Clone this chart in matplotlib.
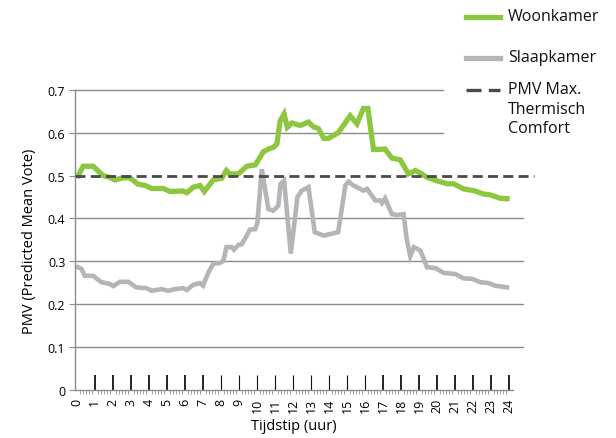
#!/usr/bin/env python3
"""PMV per uur: woonkamer vs slaapkamer, met grens thermisch comfort."""
import matplotlib

matplotlib.use("Agg")
import matplotlib.pyplot as plt
from matplotlib.lines import Line2D

plt.rcParams["font.family"] = ["Open Sans", "DejaVu Sans"]

# ---- data ----
woon_uur = [0.07, 0.35, 0.9, 1.46, 1.83, 2.1, 2.6, 2.94, 3.4, 3.8, 4.15, 4.8, 5.17, 5.9,
            6.1, 6.46, 6.83, 7.07, 7.57, 8.04, 8.3, 8.5, 8.96, 9.43, 9.9, 10.17, 10.35,
            10.63, 10.9, 11.1, 11.28, 11.5, 11.68, 11.93, 12.4, 12.85, 13.13, 13.4, 13.7,
            13.96, 14.5, 15.17, 15.54, 15.9, 16.15, 16.46, 17.1, 17.48, 17.94, 18.4,
            18.78, 19.06, 19.43, 19.98, 20.54, 20.9, 21.46, 22.02, 22.57, 22.94, 23.5, 23.87]
woon_pmv = [0.50, 0.522, 0.522, 0.50, 0.496, 0.49, 0.495, 0.495, 0.48, 0.477, 0.47, 0.47,
            0.463, 0.464, 0.46, 0.473, 0.477, 0.463, 0.49, 0.494, 0.512, 0.504, 0.504,
            0.522, 0.525, 0.543, 0.556, 0.562, 0.566, 0.574, 0.628, 0.644, 0.613, 0.623,
            0.617, 0.625, 0.614, 0.61, 0.587, 0.587, 0.60, 0.64, 0.621, 0.657, 0.657,
            0.561, 0.562, 0.541, 0.537, 0.504, 0.512, 0.506, 0.496, 0.488, 0.481, 0.481,
            0.469, 0.465, 0.457, 0.455, 0.447, 0.446]

slaap_uur = [0.07, 0.26, 0.44, 0.9, 1.37, 1.83, 2.02, 2.39, 2.85, 3.3, 3.87, 4.15, 4.7,
             5.07, 5.44, 5.9, 6.1, 6.46, 6.83, 7.0, 7.3, 7.57, 7.94, 8.13, 8.3, 8.6, 8.72,
             8.96, 9.15, 9.43, 9.6, 9.9, 10.02, 10.26, 10.63, 10.9, 11.18, 11.3, 11.5,
             11.87, 12.24, 12.48, 12.85, 13.2, 13.7, 14.5, 14.9, 15.07, 15.35, 15.9, 16.1,
             16.56, 16.83, 16.93, 17.1, 17.48, 17.76, 18.13, 18.3, 18.5, 18.7, 19.06,
             19.43, 19.9, 20.35, 21.0, 21.46, 21.93, 22.4, 22.85, 23.2, 23.87]
slaap_pmv = [0.286, 0.282, 0.266, 0.266, 0.251, 0.247, 0.242, 0.252, 0.252, 0.239, 0.237,
             0.231, 0.235, 0.231, 0.235, 0.237, 0.233, 0.245, 0.249, 0.243, 0.274, 0.294,
             0.296, 0.301, 0.333, 0.333, 0.327, 0.338, 0.34, 0.36, 0.374, 0.375, 0.391,
             0.515, 0.422, 0.418, 0.43, 0.48, 0.488, 0.318, 0.45, 0.465, 0.473, 0.368,
             0.36, 0.368, 0.477, 0.486, 0.477, 0.465, 0.469, 0.442, 0.442, 0.436, 0.447,
             0.41, 0.408, 0.41, 0.352, 0.312, 0.333, 0.325, 0.286, 0.284, 0.273, 0.27,
             0.26, 0.259, 0.251, 0.249, 0.243, 0.239]

pmv_max = 0.5
uren = list(range(0, 25))
y_ticks = [0, 0.1, 0.2, 0.3, 0.4, 0.5, 0.6, 0.7]
y_labels = ["0", "0.1", "0.2", "0.3", "0.4", "0.5", "0.6", "0.7"]
zwarte_uren = [1, 2, 3, 4, 5, 6, 7, 17, 18, 19, 20, 21, 22, 23, 24]
legenda = ["Woonkamer", "Slaapkamer", "PMV Max.\nThermisch\nComfort"]

GROEN = "#8dc63f"
GRIJS = "#b5b5b9"
STREEP = "#4a4a4a"
RASTER = "#8c8c8c"
W, H = 616, 439

fig = plt.figure(figsize=(W / 100, H / 100), dpi=100)
ax = fig.add_axes([0.1218, 0.110, 0.711, 0.6827])
ax.set_xlim(-0.1, 24.2)
ax.set_ylim(0, 0.7)

# grid lines (upper ones stop short for the legend)
for v in y_ticks[1:]:
    if v == pmv_max:
        continue
    end = 20.3 if v >= 0.6 else 24.75
    ax.plot([-0.1, end], [v, v], color=RASTER, lw=1.0, clip_on=False, zorder=1)

ax.plot(woon_uur, woon_pmv, color=GROEN, lw=3.8, solid_joinstyle="miter", zorder=3)
ax.plot(slaap_uur, slaap_pmv, color=GRIJS, lw=3.3, solid_joinstyle="miter", zorder=2)
ax.plot([-0.1, 25.35], [pmv_max, pmv_max], color=STREEP, lw=2.0, dashes=(3.6, 1.9),
        clip_on=False, zorder=4)

for s in ("top", "right"):
    ax.spines[s].set_visible(False)
for s in ("left", "bottom"):
    ax.spines[s].set_color(RASTER)
    ax.spines[s].set_linewidth(1.0)

ax.set_yticks(y_ticks)
ax.set_yticklabels(y_labels)
ax.tick_params(axis="y", direction="out", length=4, width=0.8, color=RASTER,
               labelsize=9, pad=3)

ax.set_xticks(uren)
ax.set_xticklabels([str(u) for u in uren], rotation=90)
ax.set_xticks([i / 6 for i in range(0, 24 * 6 + 1)], minor=True)
ax.tick_params(axis="x", which="major", direction="in", length=10.5, width=1.3,
               color="#111111", labelsize=9, pad=6)
ax.tick_params(axis="x", which="minor", direction="out", length=2.8, width=0.7,
               color="#a0a0a0")
for u, t in zip(uren, ax.xaxis.get_major_ticks()):
    if u == 0:
        t.tick1line.set_visible(False)
    elif u not in zwarte_uren:
        t.tick1line.set_color("#555555")
        t.tick1line.set_markeredgewidth(0.8)

ax.set_xlabel("Tijdstip (uur)", fontsize=10.5, labelpad=4)
ax.set_ylabel("PMV (Predicted Mean Vote)", fontsize=10.5, labelpad=8)

# legend drawn by hand at the top right (pixel positions of the original)
stijlen = [dict(color=GROEN, lw=3.8), dict(color=GRIJS, lw=3.8),
           dict(color=STREEP, lw=2.4, linestyle=(0, (4.5, 2.2)))]
rij_y = [18, 59, 91]
for naam, stijl, yp in zip(legenda, stijlen, rij_y):
    fig.add_artist(Line2D([466 / W, 500 / W], [1 - yp / H, 1 - yp / H], **stijl))
    fig.text(508 / W, 1 - (yp - 9) / H, naam, fontsize=11.5, va="top", ha="left",
             linespacing=1.3, color="#111111")

fig.savefig("out.png", dpi=100)
